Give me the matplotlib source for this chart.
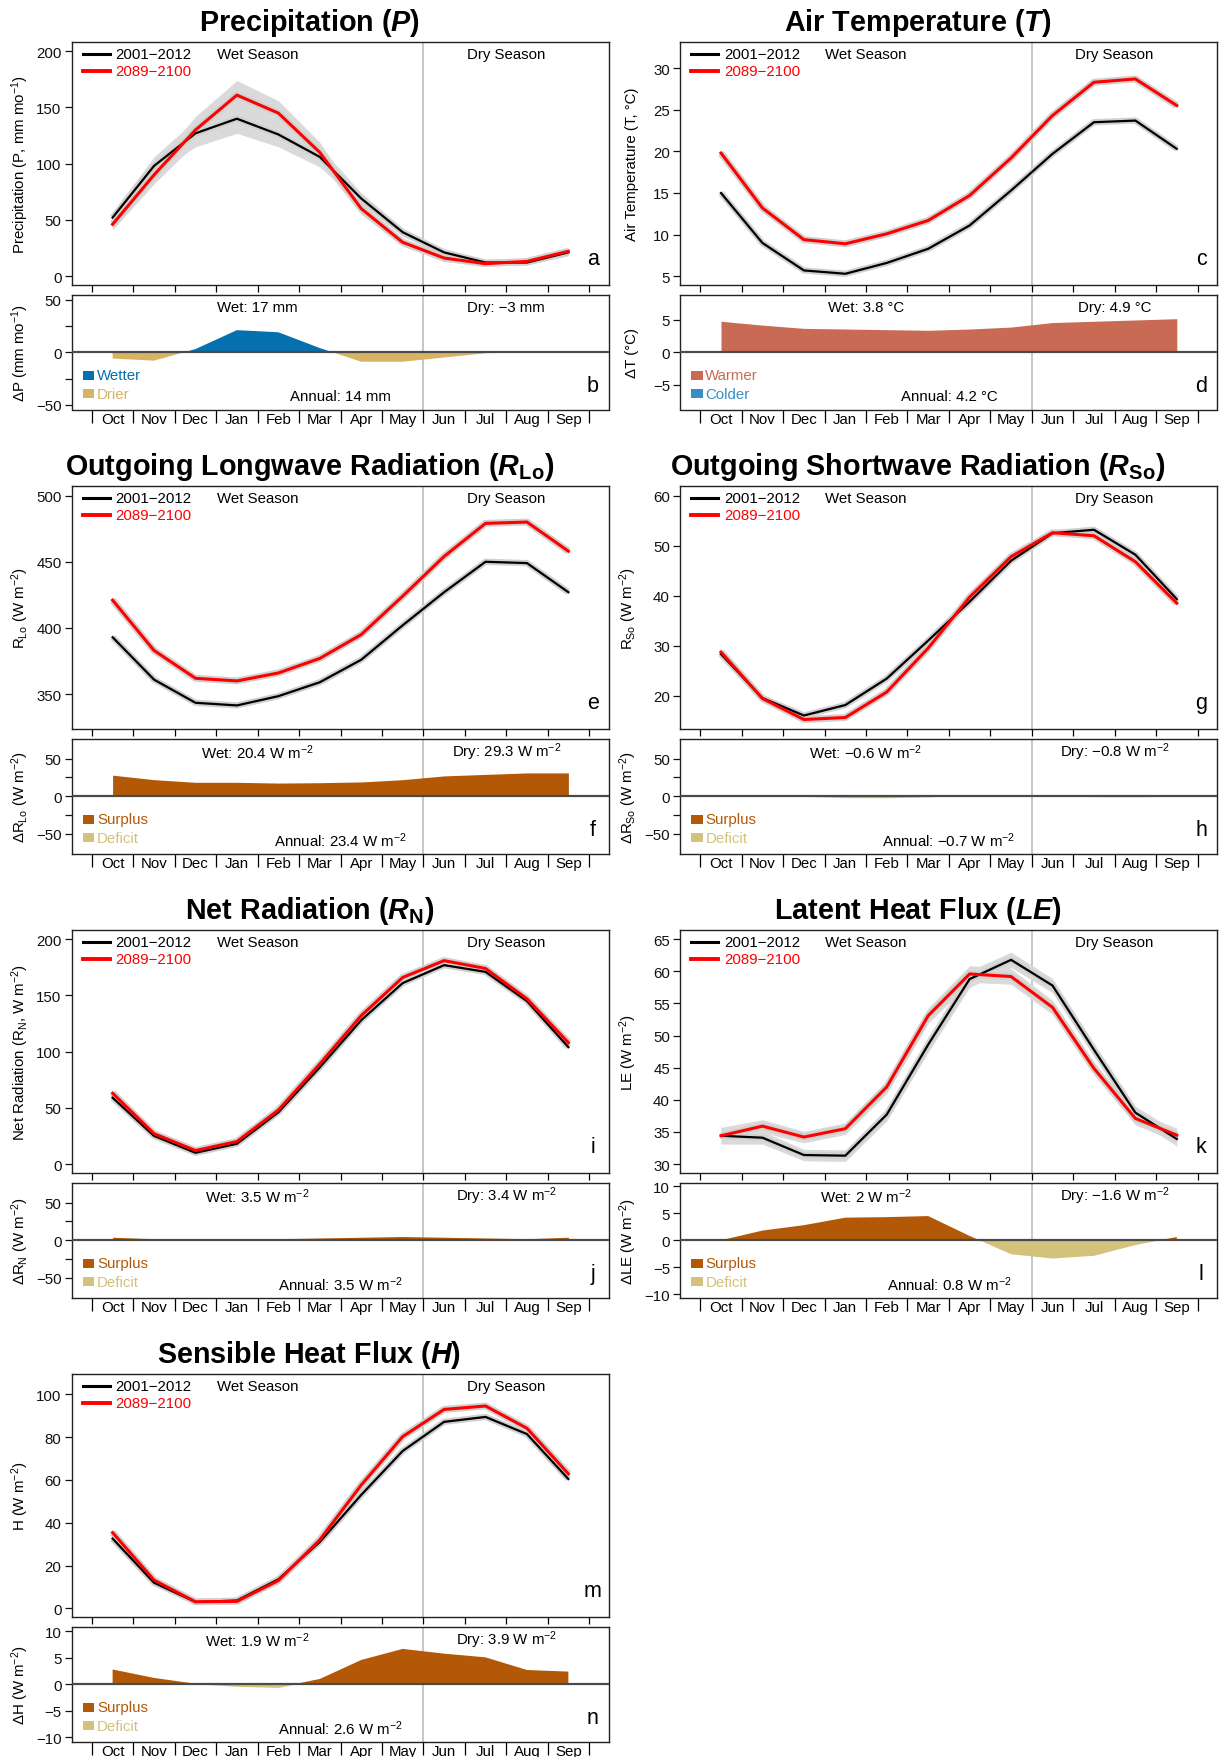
import numpy as np
import matplotlib
matplotlib.use("Agg")
import matplotlib.pyplot as plt

plt.rcParams["font.family"] = ["Liberation Sans", "DejaVu Sans"]
plt.rcParams["mathtext.fontset"] = "custom"
plt.rcParams["mathtext.rm"] = "Liberation Sans"
plt.rcParams["mathtext.it"] = "Liberation Sans:italic"
plt.rcParams["mathtext.bf"] = "Liberation Sans:bold"
plt.rcParams["mathtext.bfit"] = "Liberation Sans:bold:italic"

months = ["Oct", "Nov", "Dec", "Jan", "Feb", "Mar", "Apr", "May", "Jun", "Jul", "Aug", "Sep"]

# precipitation (mm/mo)
p_hist = [52, 98, 127, 140, 126, 106, 69, 39, 21, 12, 12, 21]
p_fut = [46, 90, 130, 161, 145, 110, 60, 30, 16, 11, 13, 22]
p_spread = [5, 8, 12, 13, 11, 9, 5, 3.5, 3, 2, 2, 3]

# air temperature (C)
t_hist = [15.0, 9.0, 5.7, 5.3, 6.6, 8.3, 11.1, 15.3, 19.7, 23.5, 23.7, 20.3]
t_fut = [19.8, 13.2, 9.4, 8.9, 10.1, 11.7, 14.7, 19.2, 24.3, 28.3, 28.7, 25.5]

# outgoing longwave
rlo_hist = [393, 361, 343.5, 341.5, 348.5, 359, 376, 402, 427, 450, 449, 427]
rlo_fut = [421, 383, 362, 360, 366, 377, 395, 424, 454, 479, 480, 458]

# outgoing shortwave
rso_hist = [28.3, 19.5, 16.0, 18.1, 23.4, 31.0, 38.8, 47.0, 52.5, 53.2, 48.2, 39.3]
rso_fut = [28.7, 19.4, 15.2, 15.6, 20.7, 29.5, 39.7, 47.8, 52.6, 52.0, 46.8, 38.5]

# net radiation
rn_hist = [59, 25, 10, 18, 46, 86, 128, 161, 177, 171, 145, 104]
rn_fut = [63, 27, 12, 20, 48, 89, 132, 166, 181, 174, 147, 108]

# latent heat
le_hist = [34.4, 34.1, 31.4, 31.3, 37.7, 48.6, 58.8, 61.8, 57.8, 47.8, 38.0, 33.9]
le_fut = [34.4, 35.9, 34.2, 35.5, 42.0, 53.1, 59.6, 59.2, 54.4, 44.9, 37.1, 34.5]
le_spread = [1.3, 1.0, 0.9, 0.9, 1.0, 1.2, 1.3, 1.2, 1.1, 1.0, 1.0, 1.1]

# sensible heat
h_hist = [32.6, 12.0, 3.0, 3.7, 13.6, 31.0, 53.0, 73.5, 87.1, 89.4, 81.4, 60.4]
h_fut = [35.4, 13.2, 3.1, 3.3, 13.0, 32.0, 57.6, 80.2, 92.9, 94.5, 84.1, 62.8]

W, H = 1219, 1758
fig = plt.figure(figsize=(W / 100, H / 100), dpi=100)
fig.patch.set_facecolor("white")

x = np.arange(12)
bounds = np.arange(13) - 0.5
XLIM = (-0.98, 11.98)
FS = 10.8
WM2 = r"W m$^{-2}$"
surplus = ("#b35806", "#d3c27c", "Surplus", "Deficit")

panels = [
    dict(col=0, row=0, title=r"Precipitation ($\mathbfit{P}$)", hist=p_hist, fut=p_fut, spread=p_spread,
         ylab=r"Precipitation (P, mm mo$^{-1}$)", ylim=(-8, 208), yt=[0, 50, 100, 150, 200],
         dlab=r"ΔP (mm mo$^{-1}$)", dlim=(-54.4, 54.4), dyt=[-50, -25, 0, 25, 50], dskip=True,
         cols=("#0570b0", "#d8b365", "Wetter", "Drier"),
         txt=("Wet: 17 mm", "Dry: \u22123 mm", "Annual: 14 mm"), let="ab"),
    dict(col=1, row=0, title=r"Air Temperature ($\mathbfit{T}$)", hist=t_hist, fut=t_fut,
         ylab="Air Temperature (T, °C)", ylim=(3.95, 33.1), yt=[5, 10, 15, 20, 25, 30],
         dlab="ΔT (°C)", dlim=(-8.87, 8.87), dyt=[-5, 0, 5], dskip=False,
         cols=("#c86a54", "#3a8ec4", "Warmer", "Colder"),
         txt=("Wet: 3.8 °C", "Dry: 4.9 °C", "Annual: 4.2 °C"), let="cd"),
    dict(col=0, row=1, title=r"Outgoing Longwave Radiation ($\mathbfit{R}_{\mathbf{Lo}}$)", hist=rlo_hist, fut=rlo_fut,
         ylab=r"R$_{\mathrm{Lo}}$ (W m$^{-2}$)", ylim=(323.7, 507), yt=[350, 400, 450, 500],
         dlab=r"ΔR$_{\mathrm{Lo}}$ (W m$^{-2}$)", dlim=(-76, 76), dyt=[-50, -25, 0, 25, 50], dskip=True,
         cols=surplus, txt=("Wet: 20.4 " + WM2, "Dry: 29.3 " + WM2, "Annual: 23.4 " + WM2), let="ef"),
    dict(col=1, row=1, title=r"Outgoing Shortwave Radiation ($\mathbfit{R}_{\mathbf{So}}$)", hist=rso_hist, fut=rso_fut,
         ylab=r"R$_{\mathrm{So}}$ (W m$^{-2}$)", ylim=(13.3, 61.9), yt=[20, 30, 40, 50, 60],
         dlab=r"ΔR$_{\mathrm{So}}$ (W m$^{-2}$)", dlim=(-76, 76), dyt=[-50, -25, 0, 25, 50], dskip=True,
         cols=surplus, txt=("Wet: \u22120.6 " + WM2, "Dry: \u22120.8 " + WM2, "Annual: \u22120.7 " + WM2), let="gh"),
    dict(col=0, row=2, title=r"Net Radiation ($\mathbfit{R}_{\mathbf{N}}$)", hist=rn_hist, fut=rn_fut,
         ylab=r"Net Radiation (R$_{\mathrm{N}}$, W m$^{-2}$)", ylim=(-8, 208), yt=[0, 50, 100, 150, 200],
         dlab=r"ΔR$_{\mathrm{N}}$ (W m$^{-2}$)", dlim=(-76, 76), dyt=[-50, -25, 0, 25, 50], dskip=True,
         cols=surplus, txt=("Wet: 3.5 " + WM2, "Dry: 3.4 " + WM2, "Annual: 3.5 " + WM2), let="ij"),
    dict(col=1, row=2, title=r"Latent Heat Flux ($\mathbfit{LE}$)", hist=le_hist, fut=le_fut, spread=le_spread,
         ylab=r"LE (W m$^{-2}$)", ylim=(28.6, 66.4), yt=[30, 35, 40, 45, 50, 55, 60, 65],
         dlab=r"ΔLE (W m$^{-2}$)", dlim=(-10.65, 10.65), dyt=[-10, -5, 0, 5, 10], dskip=False,
         cols=surplus, txt=("Wet: 2 " + WM2, "Dry: \u22121.6 " + WM2, "Annual: 0.8 " + WM2), let="kl"),
    dict(col=0, row=3, title=r"Sensible Heat Flux ($\mathbfit{H}$)", hist=h_hist, fut=h_fut,
         ylab=r"H (W m$^{-2}$)", ylim=(-4, 109.3), yt=[0, 20, 40, 60, 80, 100],
         dlab=r"ΔH (W m$^{-2}$)", dlim=(-10.85, 10.85), dyt=[-10, -5, 0, 5, 10], dskip=False,
         cols=surplus, txt=("Wet: 1.9 " + WM2, "Dry: 3.9 " + WM2, "Annual: 2.6 " + WM2), let="mn"),
]


def fmt(v):
    s = ("%g" % v)
    return s.replace("-", "\u2212")


def style_axes(ax, ylim, yt, skip):
    ax.set_xlim(*XLIM)
    ax.set_ylim(*ylim)
    for s in ax.spines.values():
        s.set_color("#222222")
        s.set_linewidth(1.0)
    ax.set_yticks(yt)
    labs = [fmt(v) for v in yt]
    if skip:
        labs = [l if i % 2 == 0 else "" for i, l in enumerate(labs)]
    ax.set_yticklabels(labs)
    ax.tick_params(axis="y", direction="out", length=5, width=0.9, pad=2.5, labelsize=FS, colors="#111111")
    ax.set_xticks(bounds)
    ax.axvline(7.5, color="#b8b8b8", lw=1.1, zorder=1)


for pn in panels:
    left = [72, 680.4][pn["col"]] / W
    width = 537 / W
    top = 43.3 + 444 * pn["row"]
    ax = fig.add_axes([left, 1 - (top + 242.7) / H, width, 242.7 / H])
    style_axes(ax, pn["ylim"], pn["yt"], False)
    ax.set_xticklabels([])
    ax.tick_params(axis="x", direction="out", length=5, width=0.9)

    hist = np.array(pn["hist"])
    fut = np.array(pn["fut"])
    if "spread" in pn:
        sp = np.array(pn["spread"])
        for ser in (hist, fut):
            ax.fill_between(x, ser - sp, ser + sp, color="#dadada", lw=0, zorder=2)
    ax.plot(x, hist, color="#d0d0d0", lw=4.5, zorder=2, solid_capstyle="butt")
    ax.plot(x, fut, color="#d0d0d0", lw=5, zorder=2, solid_capstyle="butt")
    ax.plot(x, hist, color="black", lw=1.6, zorder=3)
    ax.plot(x, fut, color="#ff0000", lw=2.2, zorder=4)

    ax.set_ylabel(pn["ylab"], fontsize=FS)
    ax.yaxis.set_label_coords(-0.077, 0.5)

    # legend
    tr = ax.transAxes
    ax.plot([0.0203, 0.0702], [0.952, 0.952], color="black", lw=2.2, transform=tr)
    ax.plot([0.0203, 0.0702], [0.883, 0.883], color="#ff0000", lw=2.8, transform=tr)
    ax.text(0.081, 0.952, "2001\u22122012", transform=tr, fontsize=FS, va="center", ha="left")
    ax.text(0.081, 0.883, "2089\u22122100", transform=tr, fontsize=FS, va="center", ha="left", color="#ff0000")
    bt = ax.get_xaxis_transform()
    ax.text(3.5, 0.952, "Wet Season", transform=bt, fontsize=FS, ha="center", va="center")
    ax.text(9.5, 0.952, "Dry Season", transform=bt, fontsize=FS, ha="center", va="center")
    ax.text(0.970, 0.086, pn["let"][0], transform=tr, fontsize=15.5, ha="center", va="baseline")

    fig.text([309.5, 918][pn["col"]] / W, 1 - (30.7 + 444 * pn["row"]) / H, pn["title"],
             fontsize=20.7, fontweight="bold", ha="center", va="baseline")

    # change panel
    dtop = 296 + 444 * pn["row"]
    dx = fig.add_axes([left, 1 - (dtop + 114.5) / H, width, 114.5 / H])
    style_axes(dx, pn["dlim"], pn["dyt"], pn["dskip"])
    dx.set_xticklabels([])
    dx.tick_params(axis="x", which="major", direction="out", length=9, width=0.9)
    dx.set_xticks(x, minor=True)
    dx.set_xticklabels(months, minor=True, fontsize=FS)
    dx.tick_params(axis="x", which="minor", length=0, pad=2)

    d = fut - hist
    pos, neg, plab, nlab = pn["cols"]
    dx.fill_between(x, d, 0, where=d >= 0, interpolate=True, color=pos, lw=0, zorder=2)
    dx.fill_between(x, d, 0, where=d <= 0, interpolate=True, color=neg, lw=0, zorder=2)
    dx.axhline(0, color="#4a4a4a", lw=1.6, zorder=3)

    dx.set_ylabel(pn["dlab"], fontsize=FS)
    dx.yaxis.set_label_coords(-0.077, 0.5)

    tr = dx.transAxes
    for yy, c, lab in [(0.297, pos, plab), (0.137, neg, nlab)]:
        dx.add_patch(plt.Rectangle((0.0203, yy - 0.04), 0.021, 0.08, transform=tr, color=c, lw=0))
        dx.text(0.0466, yy, lab, transform=tr, fontsize=FS, color=c, va="center", ha="left")
    bt = dx.get_xaxis_transform()
    wet, dry, ann = pn["txt"]
    dx.text(3.5, 0.893, wet, transform=bt, fontsize=FS, ha="center", va="center")
    dx.text(9.5, 0.893, dry, transform=bt, fontsize=FS, ha="center", va="center")
    dx.text(5.5, 0.117, ann, transform=bt, fontsize=FS, ha="center", va="center")
    dx.text(0.970, 0.163, pn["let"][1], transform=tr, fontsize=15.5, ha="center", va="baseline")

fig.savefig("out.png", dpi=100, facecolor="white")
